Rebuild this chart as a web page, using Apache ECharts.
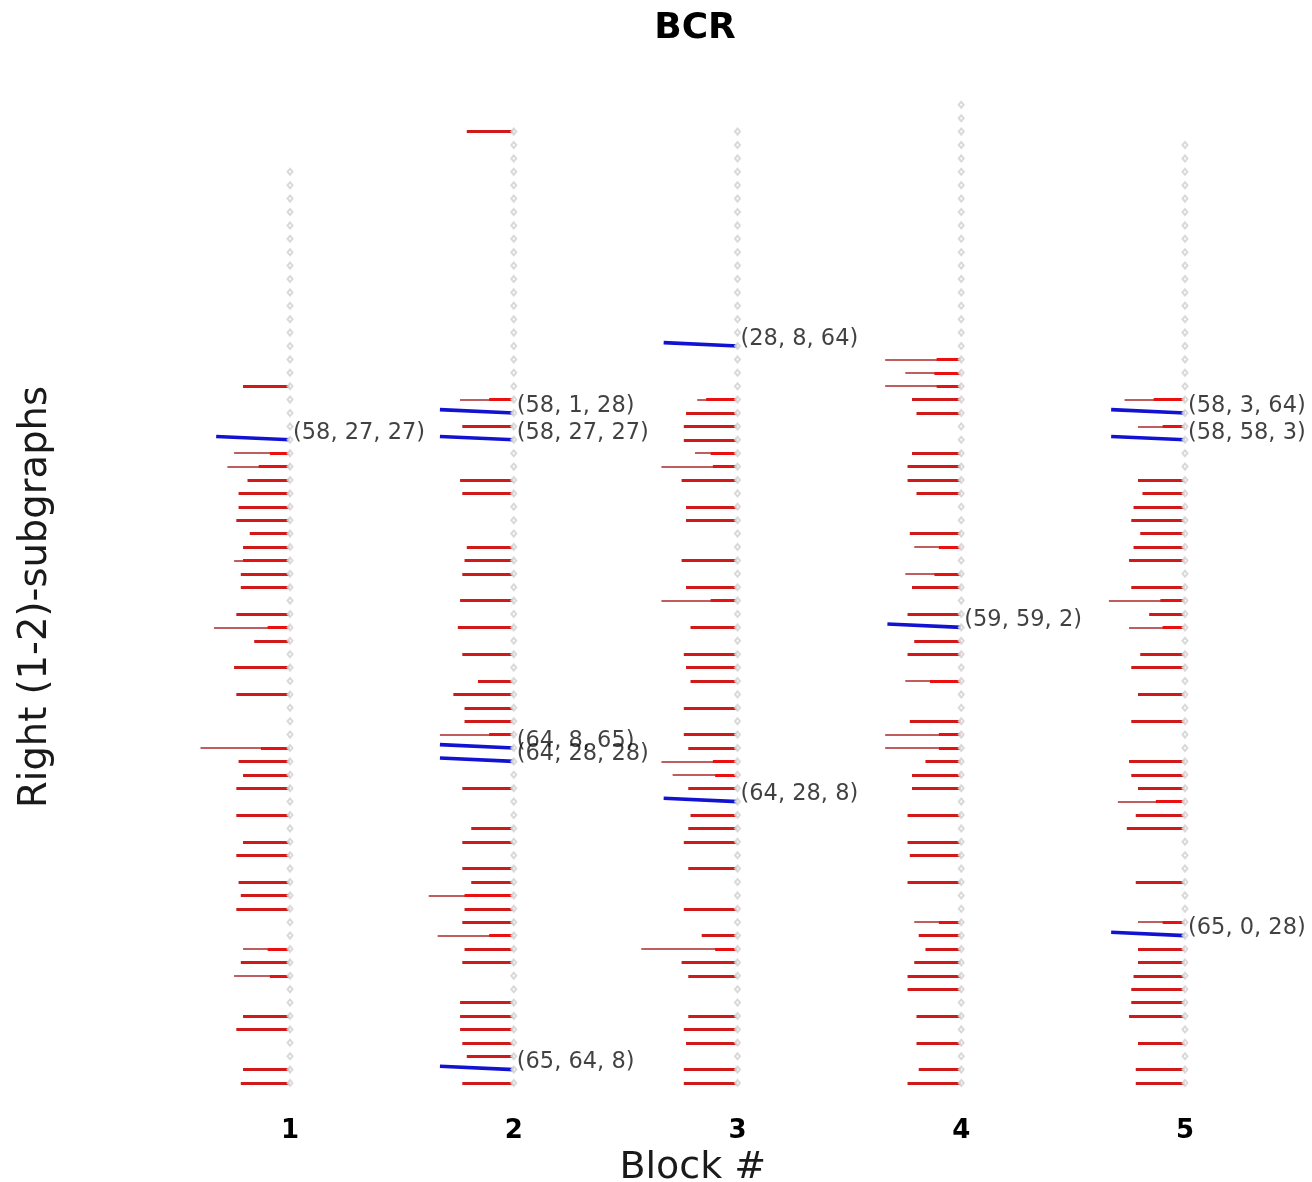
<!DOCTYPE html>
<html>
<head>
<meta charset="utf-8">
<title>BCR</title>
<script src="https://cdn.jsdelivr.net/npm/echarts@6/dist/echarts.min.js"></script>
<style>
    html, body {margin: 0; padding: 0; background: #fff;}
    #chart {width: 1312px; height: 1182px;}
</style>
</head>
<body>
<div id="chart"></div>
<script>
// blocks on the x axis and the highest subgraph row drawn for each one
const blocks = [1, 2, 3, 4, 5];
const columnTops = [68, 71, 71, 73, 70];

// red rows per block: [row, length] or [row, thin length, thick length]; length in 1/100 of a block
const redBlock1 = [[52, 21], [47, 25, 9], [46, 28, 14], [45, 19], [44, 23], [43, 23], [42, 24], [41, 18], [40, 21],
    [39, 25, 21], [38, 22], [37, 22], [35, 24], [34, 34, 10], [33, 16], [31, 25], [29, 24], [25, 40, 13], [24, 23],
    [23, 21], [22, 24], [20, 24], [18, 21], [17, 24], [15, 23], [14, 22], [13, 24], [10, 21, 10], [9, 22],
    [8, 25, 9], [5, 21], [4, 24], [1, 21], [0, 22]];
const redBlock2 = [[71, 21], [51, 24, 11], [49, 23], [45, 24], [44, 23], [40, 21], [39, 22], [38, 23], [36, 24],
    [34, 25], [32, 23], [30, 16], [29, 27], [28, 22], [27, 22], [26, 33, 11], [22, 23], [19, 19], [18, 23], [16, 23],
    [15, 19], [14, 38, 22], [13, 22], [12, 23], [11, 34, 11], [10, 22], [9, 23], [6, 24], [5, 24], [4, 24], [3, 23],
    [2, 21], [0, 23]];
const redBlock3 = [[51, 18, 14], [50, 23], [49, 24], [48, 24], [47, 19, 12], [46, 34, 11], [45, 25], [43, 23], [42, 23],
    [39, 25], [37, 23], [36, 34, 12], [34, 21], [32, 24], [31, 23], [30, 21], [28, 24], [26, 24], [25, 22],
    [24, 34, 11], [23, 29, 10], [22, 22], [20, 21], [19, 22], [18, 24], [16, 22], [13, 24], [11, 16], [10, 43, 10],
    [9, 25], [8, 22], [5, 22], [4, 24], [3, 23], [1, 24], [0, 24]];
const redBlock4 = [[54, 34, 11], [53, 25, 12], [52, 34, 11], [51, 22], [50, 20], [47, 22], [46, 24], [45, 24], [44, 20],
    [41, 23], [40, 21, 10], [38, 25, 12], [37, 22], [35, 24], [33, 21], [32, 24], [30, 25, 14], [27, 23], [26, 34, 10],
    [25, 34, 10], [24, 16], [23, 22], [22, 22], [20, 24], [18, 24], [17, 23], [15, 24], [12, 21, 10], [11, 19],
    [10, 16], [9, 21], [8, 24], [7, 24], [5, 20], [3, 20], [1, 19], [0, 24]];
const redBlock5 = [[51, 27, 14], [49, 21, 10], [45, 21], [44, 19], [43, 23], [42, 24], [41, 20], [40, 23], [39, 25],
    [37, 24], [36, 34, 11], [35, 16], [34, 25, 10], [32, 20], [31, 24], [29, 21], [27, 24], [24, 25], [23, 24],
    [22, 21], [21, 30, 13], [20, 22], [19, 26], [15, 22], [12, 21, 10], [10, 21], [9, 21], [8, 23], [7, 24],
    [6, 24], [5, 25], [3, 21], [1, 22], [0, 22]];
const redByBlock = [redBlock1, redBlock2, redBlock3, redBlock4, redBlock5];

// highlighted subgraphs: [block, row, label]
const blueLines = [
    [1, 48, '(58, 27, 27)'],
    [2, 50, '(58, 1, 28)'], [2, 48, '(58, 27, 27)'], [2, 25, '(64, 8, 65)'], [2, 24, '(64, 28, 28)'], [2, 1, '(65, 64, 8)'],
    [3, 55, '(28, 8, 64)'], [3, 21, '(64, 28, 8)'],
    [4, 34, '(59, 59, 2)'],
    [5, 50, '(58, 3, 64)'], [5, 48, '(58, 58, 3)'], [5, 11, '(65, 0, 28)']
];
const blueLength = 33;
const blueRise = 0.25;

let markers = [], mainLines = [], thinLines = [], thickLines = [];
blocks.forEach((b, i) => {
    for (let k = 0; k <= columnTops[i]; k++) {
        markers.push([b, k]);
    }
    redByBlock[i].forEach(r => {
        if (r.length === 2) {
            mainLines.push({coords: [[b - r[1] / 100, r[0]], [b, r[0]]]});
        } else {
            thinLines.push({coords: [[b - r[1] / 100, r[0]], [b, r[0]]]});
            thickLines.push({coords: [[b - r[2] / 100, r[0]], [b, r[0]]]});
        }
    });
});
let blueData = blueLines.map(d => ({coords: [[d[0] - blueLength / 100, d[1] + blueRise], [d[0], d[1]]]}));
let labelData = blueLines.map(d => ({value: [d[0], d[1]], name: d[2]}));

let chart = echarts.init(document.getElementById('chart'));
let font = 'DejaVu Sans';
let option = {
    backgroundColor: '#fff',
    animation: false,
    title: {
        text: 'BCR',
        left: 690,
        top: 6,
        textAlign: 'center',
        textStyle: {fontFamily: font, fontSize: 36, fontWeight: 'bold', color: '#000'}
    },
    graphic: [{
        type: 'text',
        x: 36,
        y: 597,
        rotation: Math.PI / 2,
        style: {
            text: 'Right (1-2)-subgraphs',
            fontFamily: font,
            fontSize: 38.5,
            fill: '#1a1a1a',
            align: 'center',
            verticalAlign: 'middle'
        }
    }],
    grid: {left: 133.4, right: 59.9, top: 78, bottom: 85.6, outerBoundsMode: 'none', containLabel: false},
    xAxis: {
        type: 'value',
        min: 0.3,
        max: 5.3,
        interval: 0.1,
        name: 'Block #',
        nameLocation: 'middle',
        nameGap: 47,
        nameTextStyle: {fontFamily: font, fontSize: 38, color: '#1a1a1a'},
        axisLine: {show: false},
        axisTick: {show: false},
        splitLine: {show: false},
        axisLabel: {
            interval: 0,
            margin: 22,
            fontFamily: font,
            fontSize: 26,
            fontWeight: 'bold',
            color: '#000',
            formatter: v => Math.abs(v - Math.round(v)) < 1e-6 ? String(Math.round(v)) : ''
        }
    },
    yAxis: {
        type: 'value',
        min: -1,
        max: 75,
        axisLine: {show: false},
        axisTick: {show: false},
        axisLabel: {show: false},
        splitLine: {show: false}
    },
    series: [
        {
            type: 'scatter',
            data: markers,
            symbol: 'emptyDiamond',
            symbolSize: [5, 6],
            itemStyle: {color: '#d0d0d0', borderWidth: 1},
            silent: true
        },
        {
            type: 'lines',
            coordinateSystem: 'cartesian2d',
            data: thinLines,
            lineStyle: {color: '#a82828', width: 1.6, opacity: 1},
            silent: true
        },
        {
            type: 'lines',
            coordinateSystem: 'cartesian2d',
            data: mainLines,
            lineStyle: {color: '#d01a1a', width: 2.8, opacity: 1},
            silent: true
        },
        {
            type: 'lines',
            coordinateSystem: 'cartesian2d',
            data: thickLines,
            lineStyle: {color: '#ea1010', width: 3.2, opacity: 1},
            silent: true
        },
        {
            type: 'lines',
            coordinateSystem: 'cartesian2d',
            data: blueData,
            lineStyle: {color: '#1212d2', width: 3.6, opacity: 1},
            silent: true
        },
        {
            type: 'scatter',
            data: labelData,
            symbolSize: 0,
            silent: true,
            label: {
                show: true,
                position: 'right',
                distance: 3,
                offset: [0, -7],
                formatter: '{b}',
                fontFamily: font,
                fontSize: 22.5,
                color: '#111'
            }
        }
    ]
};
chart.setOption(option);
</script>
</body>
</html>
